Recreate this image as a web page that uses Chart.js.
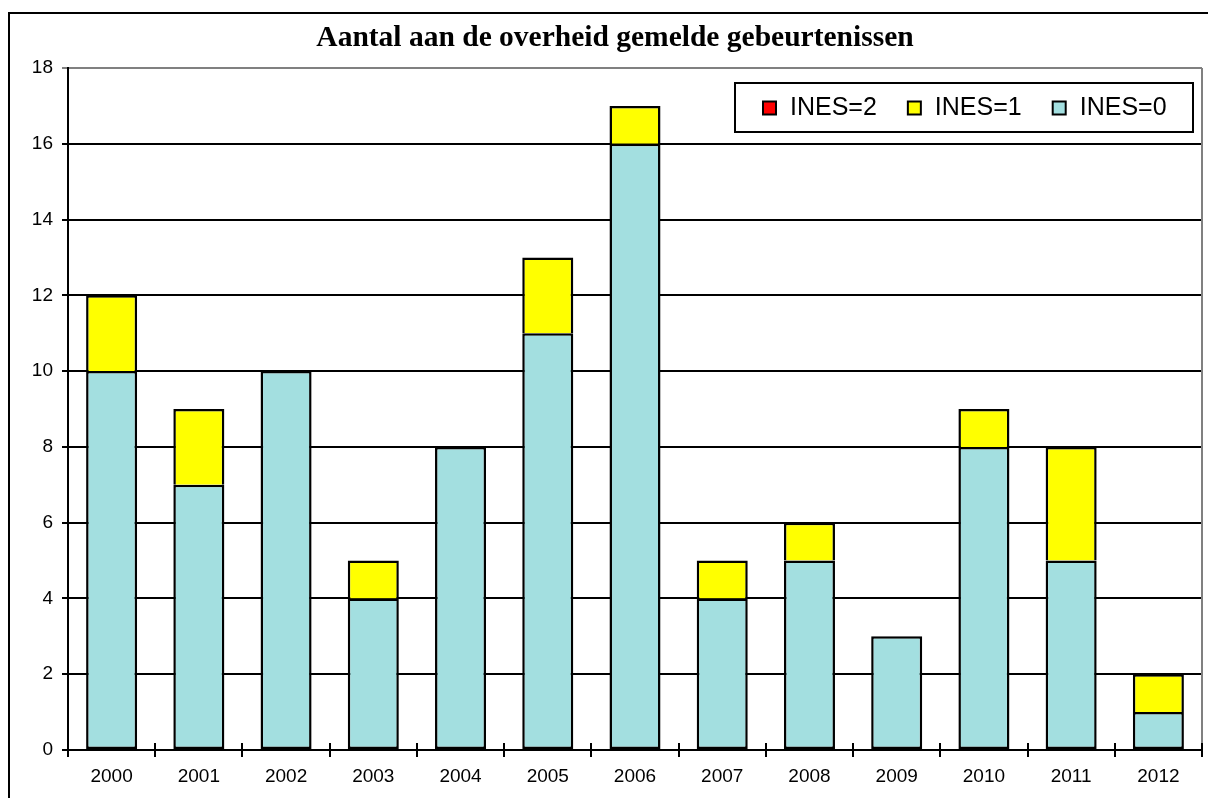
<!DOCTYPE html>
<html><head><meta charset="utf-8">
<script src="https://cdn.jsdelivr.net/npm/chart.js@4/dist/chart.umd.min.js"></script>
<style>html,body{margin:0;padding:0;background:#fff}#wrap{width:1208px;height:798px}</style>
</head><body><div id="wrap"><canvas id="c" width="1208" height="798"></canvas></div>
<script>
const chartTitle = 'Aantal aan de overheid gemelde gebeurtenissen';
const years = ['2000','2001','2002','2003','2004','2005','2006','2007','2008','2009','2010','2011','2012'];
const ines0 = [10,7,10,4,8,11,16,4,5,3,8,5,1];
const ines1 = [2,2,0,1,0,2,1,1,1,0,1,3,1];
const ines2 = [0,0,0,0,0,0,0,0,0,0,0,0,0];
const seriesLabels = ['INES=0','INES=1','INES=2'];
const seriesColors = ['#A3DFE0','#FFFF00','#FF0000'];
const yTicks = [0,2,4,6,8,10,12,14,16,18];

const decor = {
  id: 'decor',
  afterDraw(chart) {
    const ctx = chart.ctx;
    const a = chart.chartArea;
    ctx.save();
    // outer border
    ctx.strokeStyle = '#000';
    ctx.lineWidth = 2;
    ctx.strokeRect(9, 13, 1220, 820);
    // plot area right border (grey)
    ctx.strokeStyle = '#808080';
    ctx.beginPath();
    ctx.moveTo(a.right, a.top);
    ctx.lineTo(a.right, a.bottom);
    ctx.stroke();
    // inner part of x-axis ticks
    const xs = chart.scales.x;
    ctx.strokeStyle = '#000';
    ctx.beginPath();
    for (let i = 0; i <= years.length; i++) {
      const px = Math.round(xs.getPixelForValue(i - 0.5));
      ctx.moveTo(px, a.bottom - 7);
      ctx.lineTo(px, a.bottom);
    }
    ctx.stroke();
    // title
    ctx.fillStyle = '#000';
    ctx.font = 'bold 29.5px "Liberation Serif", "Times New Roman", serif';
    ctx.textAlign = 'center';
    ctx.textBaseline = 'alphabetic';
    ctx.fillText(chartTitle, 615, 46);
    // legend
    const lx = 735, ly = 83, lw = 458, lh = 49;
    ctx.fillStyle = '#fff';
    ctx.fillRect(lx, ly, lw, lh);
    ctx.strokeStyle = '#000';
    ctx.lineWidth = 2;
    ctx.strokeRect(lx, ly, lw, lh);
    ctx.font = '25px "Liberation Sans", Arial, sans-serif';
    ctx.textAlign = 'left';
    ctx.textBaseline = 'middle';
    const cy = ly + lh / 2;
    let x = 763;
    const ds = chart.data.datasets;
    for (let i = ds.length - 1; i >= 0; i--) {
      ctx.fillStyle = ds[i].backgroundColor;
      ctx.fillRect(x, cy - 6, 13, 13);
      ctx.lineWidth = 2;
      ctx.strokeStyle = '#000';
      ctx.strokeRect(x, cy - 6, 13, 13);
      ctx.fillStyle = '#000';
      ctx.fillText(ds[i].label, x + 27, cy + 1);
      x += 27 + ctx.measureText(ds[i].label).width + 31;
    }
    ctx.restore();
  }
};

const bw = c => (c.raw === 0 ? 0 : 2.5);

new Chart(document.getElementById('c'), {
  type: 'bar',
  data: {
    labels: years,
    datasets: [
      {label: seriesLabels[0], data: ines0, backgroundColor: seriesColors[0], borderSkipped: false},
      {label: seriesLabels[1], data: ines1, backgroundColor: seriesColors[1], borderSkipped: 'start'},
      {label: seriesLabels[2], data: ines2, backgroundColor: seriesColors[2], borderSkipped: 'start'}
    ].map(d => Object.assign(d, {borderColor: '#000', borderWidth: bw,
      categoryPercentage: 1.0, barPercentage: 0.585}))
  },
  options: {
    responsive: false,
    animation: false,
    devicePixelRatio: 1,
    layout: {padding: {top: 68, right: 6, left: 0, bottom: 0}},
    plugins: {legend: {display: false}, title: {display: false}, tooltip: {enabled: false}},
    scales: {
      x: {
        stacked: true,
        grid: {offset: true, drawOnChartArea: false, color: '#000', lineWidth: 2, tickLength: 7},
        border: {color: '#000', width: 2},
        ticks: {color: '#000', font: {family: '"Liberation Sans", Arial, sans-serif', size: 19}, padding: 8},
        afterFit: s => { s.height = 48; }
      },
      y: {
        stacked: true,
        min: 0, max: 18,
        afterBuildTicks: s => { s.ticks = yTicks.map(v => ({value: v})); },
        grid: {color: c => (c.tick && c.tick.value === 18) ? '#808080' : '#000', lineWidth: 2, tickLength: 6},
        border: {color: '#000', width: 2},
        ticks: {color: '#000', font: {family: '"Liberation Sans", Arial, sans-serif', size: 19}, padding: 9},
        afterFit: s => { s.width = 68; }
      }
    }
  },
  plugins: [decor]
});
</script></body></html>
